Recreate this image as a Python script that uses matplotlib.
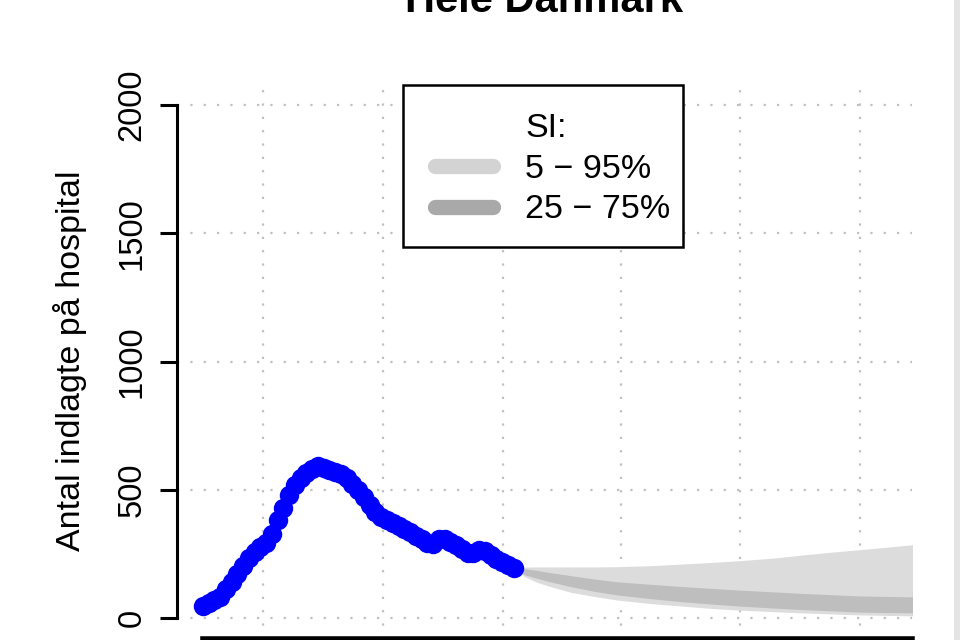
"""Hospital admissions, whole of Denmark, with forecast bands (5-95 / 25-75 %)."""
import matplotlib
matplotlib.use("Agg")
import matplotlib.pyplot as plt
from matplotlib.lines import Line2D
from matplotlib.patches import Rectangle

plt.rcParams['font.family'] = ['Liberation Sans', 'DejaVu Sans']

# observed number admitted, one point per day (day 0 = first observation)
obs_day = list(range(55))
obs_val = [47, 59, 70, 82, 113, 141, 172, 203, 234, 258,
           277, 293, 328, 383, 430, 480, 520, 547, 566, 582,
           594, 586, 578, 570, 563, 547, 523, 500, 473, 441,
           414, 395, 383, 371, 359, 348, 336, 320, 309, 293,
           289, 309, 309, 297, 285, 270, 254, 254, 266, 262,
           246, 230, 219, 207, 195]

# forecast quantiles
fc_day = [54, 56, 58, 60, 64, 68, 72, 78, 83, 88, 93, 99, 104, 109, 114, 119, 124]
q05 = [195, 160, 140, 125, 100, 84, 70, 56, 47, 38, 31, 25, 20, 16, 12, 10, 8]
q25 = [195, 168, 155, 143, 122, 104, 90, 75, 64, 55, 47, 39, 33, 28, 23, 21, 20]
q75 = [195, 192, 186, 178, 165, 152, 141, 131, 123, 116, 109, 102, 96, 91, 86, 84, 82]
q95 = [195, 198, 199, 199, 199, 199, 200, 204, 210, 216, 223, 233, 245, 256, 266, 276, 287]

grid_days = [10.4, 31.3, 52.2, 72.7, 93.4, 114.3]
yticks = [0, 500, 1000, 1500, 2000]

LIGHT = "#dcdcdc"; DARK = "#bebebe"
LEG_LIGHT = "#d3d3d3"; LEG_DARK = "#a9a9a9"
W, H = 960, 640


def fx(px): return px / W
def fy(py): return 1 - py / H


fig = plt.figure(figsize=(W / 100, H / 100), dpi=100)
fig.patch.set_facecolor("white")
ax = fig.add_axes([fx(177), fy(638.5), (912 - 177) / W, (638.5 - 84.5) / H])
ax.set_xlim(-4.52, 123.3)
ax.set_ylim(-80, 2080)

ax.fill_between(fc_day, q05, q95, color=LIGHT, lw=0, zorder=1)
ax.fill_between(fc_day, q25, q75, color=DARK, lw=0, zorder=2)
ax.plot(obs_day, obs_val, "o", color="#0000ff", ms=14, mec="none", zorder=3)

ax.set_xticks(grid_days); ax.set_xticklabels([])
ax.set_yticks(yticks); ax.set_yticklabels([str(v) for v in yticks])
ax.grid(True, ls=(0, (1, 5)), color="#c0c0c0", lw=1.6, zorder=0)
ax.set_axisbelow(True)
for s in ("top", "right"):
    ax.spines[s].set_visible(False)
ax.spines["left"].set_bounds(0, 2000); ax.spines["left"].set_linewidth(2.2)
ax.spines["bottom"].set_bounds(0, 123.3); ax.spines["bottom"].set_linewidth(4)
ax.tick_params(axis="y", length=12, width=2.2, labelsize=23.5, pad=9)
ax.tick_params(axis="x", length=12, width=2.2)
plt.setp(ax.get_yticklabels(), rotation=90, va="center")

fig.text(fx(70), fy(361), "Antal indlagte på hospital", rotation=90,
         ha="center", va="center", fontsize=24.5)
fig.text(fx(544), fy(12), "Hele Danmark", ha="center", va="baseline",
         fontsize=30, weight="bold")

# legend box drawn by hand to sit where the original does
fig.patches.append(Rectangle((fx(403), fy(247)), (683 - 403) / W, (247 - 85) / H,
                             transform=fig.transFigure, fc="white", ec="black", lw=1.8, zorder=5))
for yy, c in ((166, LEG_LIGHT), (207, LEG_DARK)):
    fig.lines.append(Line2D([fx(435), fx(493)], [fy(yy), fy(yy)], transform=fig.transFigure,
                            color=c, lw=11, solid_capstyle="round", zorder=6))
for yy, t in ((137, "SI:"), (178, "5 − 95%"), (218, "25 − 75%")):
    fig.text(fx(525), fy(yy), t, ha="left", va="baseline", fontsize=24.5, zorder=7)

# grey strip at the right edge of the screenshot
fig.patches.append(Rectangle((fx(954), 0), 6 / W, 1, transform=fig.transFigure,
                             fc="#e4e4e4", ec="none", zorder=8))

fig.savefig("out.png", dpi=100)
